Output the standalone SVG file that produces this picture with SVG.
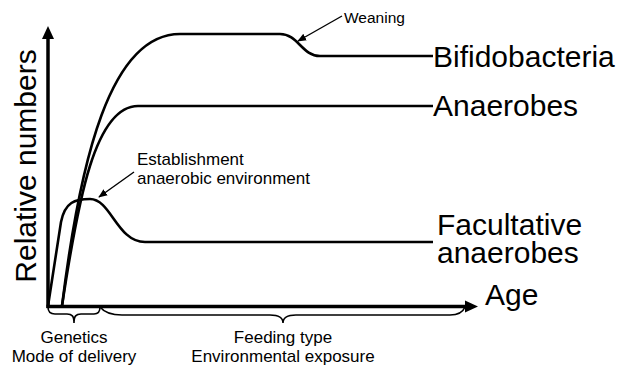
<svg xmlns="http://www.w3.org/2000/svg" width="619" height="366" viewBox="0 0 619 366">
<style>
text{font-family:"Liberation Sans",Arial,sans-serif;fill:#000}
.big{font-size:30px}
.mid{font-size:17px}
.sm{font-size:15.5px}
.ax{stroke:#000;stroke-width:3.5;fill:none}
.cv{stroke:#000;stroke-width:2.6;fill:none;stroke-linejoin:round}
.br{stroke:#000;stroke-width:1.6;fill:none}
.ar{stroke:#000;stroke-width:1.4;fill:none}
</style>
<defs>
<marker id="ah" viewBox="0 0 10 10" refX="9" refY="5" markerWidth="9" markerHeight="9" markerUnits="userSpaceOnUse" orient="auto"><path d="M0,1 L10,5 L0,9 z" fill="#000"/></marker>
</defs>
<rect width="619" height="366" fill="#fff"/>
<g id="axes">
<line class="ax" x1="48" y1="308" x2="48" y2="38"/>
<path d="M42,39 L48,26 L54,39 z" fill="#000"/>
<line class="ax" x1="46.5" y1="306.5" x2="466" y2="306.5"/>
<path d="M465,300.5 L478,306.5 L465,312.5 z" fill="#000"/>
<text class="big" transform="translate(36,166) rotate(-90)" text-anchor="middle">Relative numbers</text>
<text class="big" x="485" y="305">Age</text>
</g>
<g id="bifidobacteria">
<path class="cv" d="M62,306 C80,160 110,34 180,34 L280,34 C298,34 302,56 320,56 L433,56"/>
<text class="big" x="433" y="67">Bifidobacteria</text>
</g>
<g id="anaerobes">
<path class="cv" d="M62,306 C78,200 95,106 138,106 L433,106"/>
<text class="big" x="433" y="116">Anaerobes</text>
</g>
<g id="facultative">
<path class="cv" d="M48,306 L61,222 C65,202 75,199 90,199 C111,199 117,242 145,242 L433,242"/>
<text class="big" x="437" y="235">Facultative</text>
<text class="big" x="437" y="263">anaerobes</text>
</g>
<g id="weaning">
<text class="sm" x="344" y="23">Weaning</text>
</g>
<g id="establishment">
<text class="mid" x="137" y="165">Establishment</text>
<text class="mid" x="137" y="184">anaerobic environment</text>
</g>
<g id="connectors">
<line class="ar" x1="342" y1="16" x2="298" y2="41" marker-end="url(#ah)"/>
<line class="ar" x1="134" y1="172" x2="99" y2="197" marker-end="url(#ah)"/>
</g>
<g id="early-factors">
<path class="br" d="M48,307 C48,312 50,314 55,314 L67,314 C72,314 74,316 74,323 C74,316 76,314 81,314 L94,314 C98,314 100,312 100,307"/>
<text class="mid" x="74" y="343" text-anchor="middle">Genetics</text>
<text class="mid" x="74" y="362" text-anchor="middle">Mode of delivery</text>
</g>
<g id="late-factors">
<path class="br" d="M100,307 C104,312 110,315 122,315 L270,315 C278,315 283,317 283,323 C283,317 288,315 296,315 L450,315 C458,315 463,312 465,307"/>
<text class="mid" x="283" y="343" text-anchor="middle">Feeding type</text>
<text class="mid" x="283" y="362" text-anchor="middle">Environmental exposure</text>
</g>
</svg>
